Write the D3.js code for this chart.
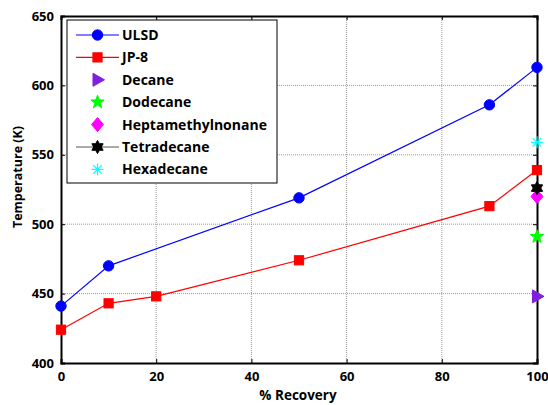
<!DOCTYPE html>
<html>
<head>
<meta charset="utf-8">
<script src="https://cdn.jsdelivr.net/npm/d3@7"></script>
<style>
  body { margin: 0; background: #fff; }
  text { font-family: "Open Sans", Lato, sans-serif; font-weight: bold; }
</style>
</head>
<body>
<svg id="chart" width="548" height="405"></svg>
<script>
// recovery values (%) and boiling temperatures (K)
const ulsdX = [0, 10, 50, 90, 100]
const ulsdY = [441, 470, 519, 586, 613]
const jp8X = [0, 10, 20, 50, 90, 100]
const jp8Y = [424, 443, 448, 474, 513, 539]

const pureNames = ['Decane', 'Dodecane', 'Heptamethylnonane', 'Tetradecane', 'Hexadecane']
const pureX = [100, 100, 100, 100, 100]
const pureY = [448, 491, 520, 526, 559]

const xTicks = [0, 20, 40, 60, 80, 100]
const yTicks = [400, 450, 500, 550, 600, 650]

const margin = { left: 61, right: 11, top: 16, bottom: 42 }
const W = 548, H = 405

const svg = d3.select('#chart')

const x = d3.scaleLinear().domain([0, 100]).range([margin.left, W - margin.right])
const y = d3.scaleLinear().domain([400, 650]).range([H - margin.bottom, margin.top])

// star shaped path, used for pentagram / hexagram markers
function starPath(n, rOut, rIn, rot) {
	const pts = []
	for (let i = 0; i < n * 2; i++) {
		const r = i % 2 == 0 ? rOut : rIn
		const a = rot + Math.PI * i / n
		pts.push([r * Math.sin(a), -r * Math.cos(a)])
	}
	return 'M' + pts.map(p => p.join(',')).join('L') + 'Z'
}

const markers = {
	circle: g => g.append('circle').attr('r', 5.2),
	square: g => g.append('rect').attr('x', -4.6).attr('y', -4.6).attr('width', 9.2).attr('height', 9.2),
	triangle: g => g.append('path').attr('d', 'M-4.5,-6.5L7,0L-4.5,6.5Z'),
	pentagram: g => g.append('path').attr('d', starPath(5, 7, 2.9, 0)),
	diamond: g => g.append('path').attr('d', 'M0,-7L6,0L0,7L-6,0Z'),
	hexagram: g => g.append('path').attr('d', starPath(6, 6.5, 3.8, 0)),
	asterisk: g => {
		const a = g.append('g').attr('fill', 'none').attr('stroke-width', 1.2)
		const r = 6
		;[0, 45, 90, 135].forEach(d => {
			const t = d * Math.PI / 180
			a.append('line').attr('x1', -r * Math.cos(t)).attr('y1', -r * Math.sin(t))
				.attr('x2', r * Math.cos(t)).attr('y2', r * Math.sin(t))
		})
		return a
	}
}

const series = [
	{ name: 'ULSD', xs: ulsdX, ys: ulsdY, color: '#0000ff', marker: 'circle', line: true },
	{ name: 'JP-8', xs: jp8X, ys: jp8Y, color: '#ff0000', marker: 'square', line: true },
	{ name: pureNames[0], xs: [pureX[0]], ys: [pureY[0]], color: '#7f1fdf', marker: 'triangle', line: false },
	{ name: pureNames[1], xs: [pureX[1]], ys: [pureY[1]], color: '#00ff00', marker: 'pentagram', line: false },
	{ name: pureNames[2], xs: [pureX[2]], ys: [pureY[2]], color: '#ff00ff', marker: 'diamond', line: false },
	{ name: pureNames[3], xs: [pureX[3]], ys: [pureY[3]], color: '#000000', marker: 'hexagram', line: true },
	{ name: pureNames[4], xs: [pureX[4]], ys: [pureY[4]], color: '#00ffff', marker: 'asterisk', line: false }
]

// grid
const grid = svg.append('g').attr('stroke', '#999').attr('stroke-dasharray', '1,1').attr('stroke-width', 1)
grid.selectAll('.gx').data(xTicks.slice(1, -1)).enter().append('line')
	.attr('x1', d => x(d)).attr('x2', d => x(d)).attr('y1', y(400)).attr('y2', y(650))
grid.selectAll('.gy').data(yTicks.slice(1, -1)).enter().append('line')
	.attr('x1', x(0)).attr('x2', x(100)).attr('y1', d => y(d)).attr('y2', d => y(d))

// axes (ticks inward like matlab)
const xAxis = d3.axisBottom(x).tickValues(xTicks).tickSize(-4).tickPadding(9)
const yAxis = d3.axisLeft(y).tickValues(yTicks).tickSize(-4).tickPadding(7)

const xg = svg.append('g').attr('transform', `translate(0, ${y(400)})`).call(xAxis)
const yg = svg.append('g').attr('transform', `translate(${x(0)}, 0)`).call(yAxis)
svg.append('g').attr('transform', `translate(0, ${y(650)})`)
	.call(d3.axisTop(x).tickValues(xTicks).tickSize(-4).tickFormat(''))
svg.append('g').attr('transform', `translate(${x(100)}, 0)`)
	.call(d3.axisRight(y).tickValues(yTicks).tickSize(-4).tickFormat(''))

svg.selectAll('.domain').attr('stroke', '#000').attr('stroke-width', 2)
svg.selectAll('.tick line').attr('stroke', '#000')
svg.selectAll('.tick text').attr('font-size', 13).attr('fill', '#000')

// axis labels
svg.append('text').attr('x', x(50) - 1).attr('y', 400).attr('text-anchor', 'middle')
	.attr('font-size', 13.5).text('% Recovery')
svg.append('text').attr('transform', `translate(22, ${y(534)}) rotate(-90)`)
	.attr('text-anchor', 'middle').attr('font-size', 12.5).text('Temperature (K)')

// data
const lineGen = d3.line().x(d => x(d[0])).y(d => y(d[1]))

series.forEach(s => {
	const pts = s.xs.map((v, i) => [v, s.ys[i]])
	if (s.line && pts.length > 1) {
		svg.append('path').datum(pts).attr('d', lineGen)
			.attr('fill', 'none').attr('stroke', s.color).attr('stroke-width', 1.2)
	}
	pts.forEach(p => {
		const g = svg.append('g').attr('transform', `translate(${x(p[0])}, ${y(p[1])})`)
			.attr('fill', s.color).attr('stroke', s.color)
		markers[s.marker](g)
	})
})

// legend
const legend = svg.append('g').attr('transform', 'translate(67, 20)')
legend.append('rect').attr('width', 210).attr('height', 163)
	.attr('fill', '#fff').attr('stroke', '#000').attr('stroke-width', 1)

series.forEach((s, i) => {
	const ly = 15 + i * 22.4
	if (s.line) {
		legend.append('line').attr('x1', 9).attr('x2', 52).attr('y1', ly).attr('y2', ly)
			.attr('stroke', s.marker == 'hexagram' ? '#555' : s.color).attr('stroke-width', 1.2)
	}
	const g = legend.append('g').attr('transform', `translate(30.5, ${ly})`)
		.attr('fill', s.color).attr('stroke', s.color)
	markers[s.marker](g)
	legend.append('text').attr('x', 55).attr('y', ly).attr('dy', '0.36em')
		.attr('font-size', 14).text(s.name)
})
</script>
</body>
</html>
